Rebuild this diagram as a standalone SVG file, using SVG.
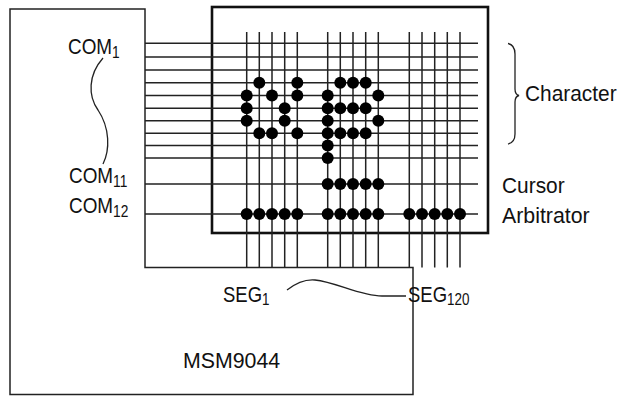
<svg xmlns="http://www.w3.org/2000/svg" width="623" height="396" viewBox="0 0 623 396">
<style>
.ln{stroke:#222;stroke-width:1.5;fill:none}
.thick{stroke:#111;stroke-width:2.6;fill:none}
.dot{fill:#000}
.t{font-family:"Liberation Sans",Arial,sans-serif;font-size:22px;fill:#111}
.sub{font-size:16px}
</style>
<defs>
<circle id="d" r="6" class="dot"/>
</defs>
<g id="chip">
<path class="ln" d="M10,9 H145 V267.5 H413 V394.5 H10 Z"/>
</g>
<g id="display">
<rect class="thick" x="212" y="7" width="276" height="226"/>
</g>
<g id="connectors">
<g id="com-lines" class="ln">
<path d="M145,43.3H478M145,57H478M145,70H478M145,82.7H478M145,95.5H478M145,108.2H478M145,120.8H478M145,133.3H478M145,145.5H478M145,158H478M145,184H478M145,214H478"/>
</g>
<g id="seg-lines" class="ln">
<path d="M246.7,32V267.5M259.3,32V267.5M272,32V267.5M284.7,32V267.5M297.3,32V267.5M327.7,32V267.5M340.3,32V267.5M353,32V267.5M365.7,32V267.5M378.3,32V267.5M409.3,32V267.5M422,32V267.5M434.7,32V267.5M447.3,32V267.5M460,32V267.5"/>
</g>
<path id="com-curve" class="ln" style="stroke-width:1.3" d="M103,58 C88,75 88,96 98,110 C110,128 110,150 103,164"/>
<path id="seg-curve" class="ln" style="stroke-width:1.3" d="M287,290 C296,283 304,279 315,280 C336,282 360,296 382,296 L406,296"/>
<path id="brace" class="ln" style="stroke-width:1.3" d="M508,43.5 Q515,45 515,54 L515,89 Q515,94.5 519,95.5 Q515,96.5 515,102 L515,134 Q515,142.5 508,144"/>
</g>
<g id="dots">
<use href="#d" x="259.3" y="82.7"/><use href="#d" x="297.3" y="82.7"/>
<use href="#d" x="340.3" y="82.7"/><use href="#d" x="353" y="82.7"/><use href="#d" x="365.7" y="82.7"/>
<use href="#d" x="246.7" y="95.5"/><use href="#d" x="272" y="95.5"/><use href="#d" x="297.3" y="95.5"/>
<use href="#d" x="327.7" y="95.5"/><use href="#d" x="378.3" y="95.5"/>
<use href="#d" x="246.7" y="108.2"/><use href="#d" x="284.7" y="108.2"/>
<use href="#d" x="327.7" y="108.2"/><use href="#d" x="340.3" y="108.2"/><use href="#d" x="353" y="108.2"/><use href="#d" x="365.7" y="108.2"/>
<use href="#d" x="246.7" y="120.8"/><use href="#d" x="284.7" y="120.8"/>
<use href="#d" x="327.7" y="120.8"/><use href="#d" x="378.3" y="120.8"/>
<use href="#d" x="259.3" y="133.3"/><use href="#d" x="272" y="133.3"/><use href="#d" x="297.3" y="133.3"/>
<use href="#d" x="327.7" y="133.3"/><use href="#d" x="340.3" y="133.3"/><use href="#d" x="353" y="133.3"/><use href="#d" x="365.7" y="133.3"/>
<use href="#d" x="327.7" y="145.5"/>
<use href="#d" x="327.7" y="158"/>
<use href="#d" x="327.7" y="184"/><use href="#d" x="340.3" y="184"/><use href="#d" x="353" y="184"/><use href="#d" x="365.7" y="184"/><use href="#d" x="378.3" y="184"/>
<use href="#d" x="246.7" y="214"/><use href="#d" x="259.3" y="214"/><use href="#d" x="272" y="214"/><use href="#d" x="284.7" y="214"/><use href="#d" x="297.3" y="214"/>
<use href="#d" x="327.7" y="214"/><use href="#d" x="340.3" y="214"/><use href="#d" x="353" y="214"/><use href="#d" x="365.7" y="214"/><use href="#d" x="378.3" y="214"/>
<use href="#d" x="409.3" y="214"/><use href="#d" x="422" y="214"/><use href="#d" x="434.7" y="214"/><use href="#d" x="447.3" y="214"/><use href="#d" x="460" y="214"/>
</g>
<g id="labels">
<text class="t" transform="translate(68,54) scale(0.86,1)">COM<tspan class="sub" dy="3.5">1</tspan></text>
<text class="t" transform="translate(69,183.3) scale(0.86,1)">COM<tspan class="sub" dy="3.5">11</tspan></text>
<text class="t" transform="translate(69,213.3) scale(0.86,1)">COM<tspan class="sub" dy="3.5">12</tspan></text>
<text class="t" transform="translate(223,301.7) scale(0.84,1)">SEG<tspan class="sub" dy="3.5">1</tspan></text>
<text class="t" transform="translate(408,301.7) scale(0.84,1)">SEG<tspan class="sub" dy="3.5">120</tspan></text>
<text class="t" transform="translate(183,367.7) scale(0.97,1)">MSM9044</text>
<text class="t" transform="translate(525,100.7) scale(0.95,1)">Character</text>
<text class="t" transform="translate(502,193.3) scale(0.95,1)">Cursor</text>
<text class="t" transform="translate(502,223.3) scale(0.97,1)">Arbitrator</text>
</g>
</svg>
